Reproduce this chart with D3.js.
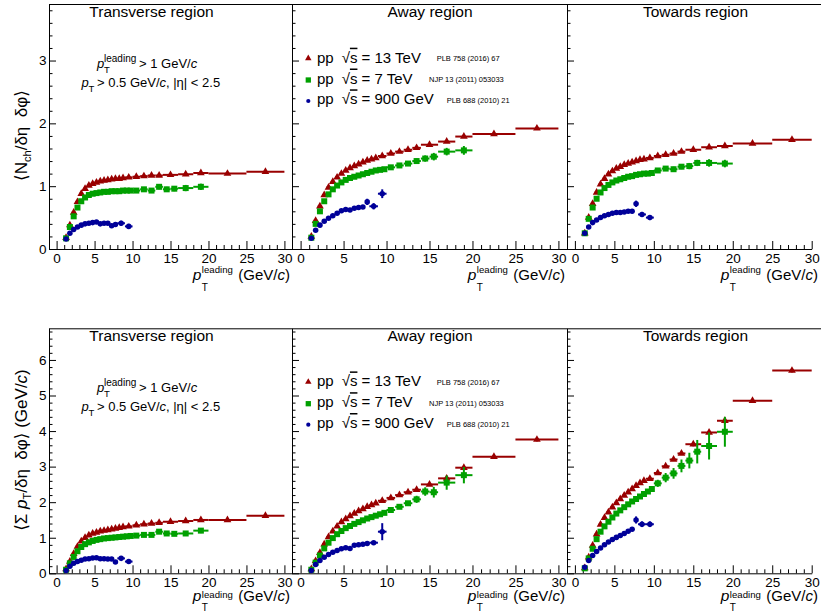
<!DOCTYPE html>
<html><head><meta charset="utf-8">
<script src="https://cdn.jsdelivr.net/npm/d3@7"></script>
<style>
body{margin:0;background:#fff}
svg text{font-family:"Liberation Sans",Arial,Helvetica,"DejaVu Sans",sans-serif;fill:#000}
</style>
</head><body>
<svg id="c" width="821" height="613"></svg>
<script>
// ---------------- DATA ----------------
const ptRed   = [1.25,1.75,2.25,2.75,3.25,3.75,4.25,4.75,5.25,5.75,6.25,6.75,7.25,7.75,8.25,8.75,9.5,10.5,11.5,12.5,13.5,15,17,19,22.5,27.5];
const ptRedHalf = [0.25,0.25,0.25,0.25,0.25,0.25,0.25,0.25,0.25,0.25,0.25,0.25,0.25,0.25,0.25,0.25,0.5,0.5,0.5,0.5,0.5,1,1,1,2.5,2.5];
const ptGreen = [1.25,1.75,2.25,2.75,3.25,3.75,4.25,4.75,5.25,5.75,6.25,6.75,7.25,7.75,8.25,8.75,9.25,9.75,10.5,11.5,12.5,13.5,14.5,15.5,17,19];
const ptGreenHalf = [0.25,0.25,0.25,0.25,0.25,0.25,0.25,0.25,0.25,0.25,0.25,0.25,0.25,0.25,0.25,0.25,0.25,0.25,0.5,0.5,0.5,0.5,0.5,0.5,1,1];
const ptBlue  = [1.25,1.75,2.25,2.75,3.25,3.75,4.25,4.75,5.25,5.75,6.25,6.75,7.25,7.75,8.5,9.5];
const ptBlueHalf = [0.25,0.25,0.25,0.25,0.25,0.25,0.25,0.25,0.25,0.25,0.25,0.25,0.25,0.25,0.5,0.5];

// <N_ch / deta dphi>
const nchTransRed   = [0.18,0.38,0.58,0.75,0.88,0.96,1.01,1.04,1.06,1.08,1.09,1.10,1.11,1.12,1.12,1.13,1.14,1.15,1.16,1.17,1.17,1.18,1.19,1.21,1.20,1.23];
const nchTransGreen = [0.17,0.35,0.52,0.66,0.76,0.82,0.86,0.88,0.89,0.90,0.91,0.91,0.92,0.92,0.92,0.93,0.93,0.93,0.93,0.95,0.93,0.99,0.95,0.96,0.97,0.99];
const nchTransBlue  = [0.16,0.25,0.31,0.35,0.38,0.40,0.41,0.42,0.43,0.40,0.41,0.41,0.37,0.39,0.41,0.36];
const nchAwayRed    = [0.20,0.45,0.68,0.86,0.98,1.07,1.14,1.20,1.25,1.29,1.32,1.35,1.38,1.41,1.43,1.45,1.48,1.52,1.55,1.58,1.61,1.66,1.71,1.79,1.83,1.92];
const nchAwayGreen  = [0.18,0.40,0.60,0.76,0.87,0.95,1.01,1.06,1.10,1.13,1.15,1.17,1.19,1.21,1.23,1.25,1.26,1.27,1.30,1.33,1.36,1.40,1.44,1.47,1.55,1.57];
const nchAwayBlue   = [0.17,0.30,0.38,0.44,0.49,0.53,0.57,0.61,0.63,0.62,0.65,0.66,0.67,0.75,0.68,0.88];
const nchTowRed     = [0.25,0.50,0.72,0.90,1.03,1.12,1.19,1.24,1.28,1.31,1.34,1.36,1.38,1.40,1.42,1.43,1.45,1.48,1.50,1.52,1.55,1.58,1.62,1.64,1.68,1.74];
const nchTowGreen   = [0.25,0.48,0.66,0.80,0.90,0.97,1.02,1.06,1.09,1.11,1.13,1.15,1.16,1.18,1.19,1.20,1.20,1.21,1.25,1.28,1.27,1.31,1.32,1.37,1.37,1.36];
const nchTowBlue    = [0.25,0.35,0.42,0.46,0.50,0.53,0.55,0.57,0.58,0.58,0.59,0.60,0.60,0.72,0.55,0.50];

// <sum pT / deta dphi>
const sptTransRed   = [0.12,0.33,0.55,0.75,0.90,1.00,1.07,1.12,1.15,1.18,1.20,1.22,1.24,1.26,1.28,1.30,1.32,1.35,1.38,1.40,1.42,1.45,1.47,1.50,1.50,1.62];
const sptTransGreen = [0.10,0.28,0.46,0.62,0.74,0.82,0.87,0.91,0.94,0.96,0.98,0.99,1.00,1.01,1.02,1.03,1.04,1.05,1.06,1.08,1.08,1.17,1.12,1.11,1.12,1.20];
const sptTransBlue  = [0.08,0.20,0.28,0.33,0.37,0.40,0.41,0.43,0.44,0.41,0.41,0.40,0.40,0.32,0.42,0.33];
const sptAwayRed    = [0.12,0.35,0.58,0.82,1.02,1.18,1.32,1.44,1.53,1.61,1.68,1.75,1.81,1.87,1.92,1.97,2.04,2.12,2.20,2.28,2.35,2.50,2.67,2.97,3.28,3.76];
const sptAwayGreen  = [0.10,0.30,0.50,0.70,0.86,0.99,1.10,1.19,1.27,1.33,1.39,1.44,1.49,1.54,1.58,1.62,1.66,1.70,1.78,1.87,1.97,2.08,2.30,2.28,2.55,2.76];
const sptAwayBlue   = [0.08,0.25,0.36,0.45,0.53,0.59,0.64,0.69,0.72,0.70,0.79,0.80,0.82,0.84,0.86,1.17];
const sptTowRed     = [0.15,0.45,0.78,1.10,1.37,1.56,1.72,1.86,1.98,2.09,2.19,2.28,2.37,2.46,2.54,2.60,2.66,2.82,3.01,3.20,3.37,3.63,3.96,4.29,4.85,5.70];
const sptTowGreen   = [0.14,0.42,0.69,0.96,1.17,1.32,1.45,1.57,1.68,1.77,1.86,1.94,2.02,2.09,2.16,2.23,2.30,2.37,2.53,2.69,2.81,3.02,3.17,3.42,3.58,3.98];
const sptTowBlue    = [0.17,0.36,0.50,0.61,0.71,0.80,0.88,0.95,1.01,1.06,1.12,1.18,1.24,1.50,1.38,1.38];

// vertical uncertainties
const errNchTransRed   = [.01,.01,.01,.01,.01,.01,.01,.01,.01,.01,.01,.01,.01,.01,.01,.01,.01,.01,.01,.01,.01,.01,.02,.02,.02,.02];
const errNchTransGreen = [.01,.01,.01,.01,.01,.01,.01,.01,.01,.01,.01,.01,.01,.01,.02,.02,.02,.02,.02,.03,.03,.04,.04,.04,.05,.05];
const errNchTransBlue  = [.01,.01,.01,.01,.01,.01,.01,.01,.02,.02,.02,.02,.03,.04,.04,.04];
const errNchAwayRed    = [.01,.01,.01,.01,.01,.01,.01,.01,.01,.01,.01,.01,.01,.01,.01,.01,.01,.01,.01,.01,.02,.02,.02,.02,.02,.02];
const errNchAwayGreen  = [.01,.01,.01,.01,.01,.01,.01,.01,.01,.01,.01,.01,.01,.01,.02,.02,.02,.02,.03,.03,.03,.04,.05,.06,.06,.07];
const errNchAwayBlue   = [.01,.01,.01,.01,.01,.01,.01,.01,.02,.02,.02,.02,.03,.05,.05,.07];
const errNchTowRed     = [.01,.01,.01,.01,.01,.01,.01,.01,.01,.01,.01,.01,.01,.01,.01,.01,.01,.01,.01,.01,.02,.02,.02,.02,.02,.02];
const errNchTowGreen   = [.01,.01,.01,.01,.01,.01,.01,.01,.01,.01,.01,.01,.01,.01,.02,.02,.02,.02,.03,.03,.04,.04,.05,.05,.06,.06];
const errNchTowBlue    = [.01,.01,.01,.01,.01,.01,.01,.01,.02,.02,.02,.02,.03,.05,.04,.04];
const errSptTransRed   = [.01,.01,.01,.01,.01,.01,.01,.01,.01,.01,.01,.01,.01,.01,.01,.01,.02,.02,.02,.02,.02,.02,.03,.03,.03,.03];
const errSptTransGreen = [.01,.01,.01,.01,.01,.01,.01,.01,.01,.01,.01,.01,.01,.01,.02,.02,.02,.02,.03,.03,.04,.04,.05,.05,.06,.07];
const errSptTransBlue  = [.01,.01,.01,.01,.01,.01,.01,.01,.02,.02,.02,.02,.03,.04,.04,.04];
const errSptAwayRed    = [.01,.01,.01,.01,.01,.01,.01,.01,.01,.01,.01,.01,.01,.01,.01,.01,.02,.02,.02,.02,.02,.04,.05,.06,.05,.05];
const errSptAwayGreen  = [.01,.01,.01,.01,.01,.01,.01,.01,.01,.01,.01,.01,.01,.01,.02,.02,.02,.02,.04,.05,.06,.10,.12,.15,.20,.23];
const errSptAwayBlue   = [.01,.01,.01,.01,.01,.01,.01,.01,.02,.02,.02,.02,.03,.05,.05,.24];
const errSptTowRed     = [.01,.01,.01,.01,.01,.01,.01,.01,.01,.01,.01,.01,.01,.01,.01,.01,.03,.03,.03,.03,.03,.06,.06,.08,.05,.05];
const errSptTowGreen   = [.01,.01,.01,.01,.01,.01,.01,.01,.01,.01,.01,.01,.03,.03,.04,.04,.05,.06,.10,.13,.15,.18,.22,.33,.38,.42];
const errSptTowBlue    = [.01,.01,.01,.01,.01,.01,.01,.01,.02,.02,.02,.02,.04,.10,.08,.08];

const regionTitles = ["Transverse region","Away region","Towards region"];
const xTickValues = [0,5,10,15,20,25,30];
const yTickValuesTop = [0,1,2,3];
const yTickValuesBottom = [0,1,2,3,4,5,6];
const legendLabels = ["13 TeV","7 TeV","900 GeV"];
const legendRefs = ["PLB 758 (2016) 67","NJP 13 (2011) 053033","PLB 688 (2010) 21"];

// ---------------- LAYOUT ----------------
const colRed = "#990000", colGreen = "#00a000", colBlue = "#000099";
const cols = [
  {x0:49,  x1:292,   dom:[-1,31], R:290, tx:151.5},
  {x0:292, x1:567,   dom:[-1,31], R:565, tx:430},
  {x0:567, x1:811.7, dom:[-1,30], R:818, tx:695.5}
];
const rows = [
  {y0:4,     y1:249,   dom:[0,3.9],  majors:yTickValuesTop,    ymaxMinor:3.8,
   titleBase:16.5, xlabBase:280, supBase:272.5, subBase:290.5,
   data:[[nchTransRed,nchTransGreen,nchTransBlue,errNchTransRed,errNchTransGreen,errNchTransBlue],
         [nchAwayRed,nchAwayGreen,nchAwayBlue,errNchAwayRed,errNchAwayGreen,errNchAwayBlue],
         [nchTowRed,nchTowGreen,nchTowBlue,errNchTowRed,errNchTowGreen,errNchTowBlue]]},
  {y0:328.3, y1:573.3, dom:[0,6.89], majors:yTickValuesBottom, ymaxMinor:6.8,
   titleBase:340.8, xlabBase:601, supBase:597.5, subBase:610.5,
   data:[[sptTransRed,sptTransGreen,sptTransBlue,errSptTransRed,errSptTransGreen,errSptTransBlue],
         [sptAwayRed,sptAwayGreen,sptAwayBlue,errSptAwayRed,errSptAwayGreen,errSptAwayBlue],
         [sptTowRed,sptTowGreen,sptTowBlue,errSptTowRed,errSptTowGreen,errSptTowBlue]]}
];

const svg = d3.select("#c");
svg.append("rect").attr("width",821).attr("height",613).attr("fill","#fff");

const triangle = d3.symbol().type(d3.symbolTriangle);
const square = d3.symbol().type(d3.symbolSquare);
const circle = d3.symbol().type(d3.symbolCircle);

function drawSeries(g, x, y, pts, half, vals, errs, color, sym, size) {
  const d = pts.map((p,i)=>({p, h:half[i], v:vals[i], e:errs[i]}));
  const s = g.append("g");
  s.selectAll(null).data(d).join("line")
    .attr("x1",q=>x(q.p-q.h)).attr("x2",q=>x(q.p+q.h))
    .attr("y1",q=>y(q.v)).attr("y2",q=>y(q.v))
    .attr("stroke",color).attr("stroke-width",2);
  s.selectAll(null).data(d).join("line")
    .attr("x1",q=>x(q.p)).attr("x2",q=>x(q.p))
    .attr("y1",q=>y(q.v-q.e)).attr("y2",q=>y(q.v+q.e))
    .attr("stroke",color).attr("stroke-width",2);
  s.selectAll(null).data(d).join("path")
    .attr("transform",q=>`translate(${x(q.p)},${y(q.v)})`)
    .attr("d",sym.size(size)()).attr("fill",color);
}

function pSymbol(g, px, base, fs, subFs, supFs, subBase, supBase, withSup, advance) {
  g.append("text").attr("x",px).attr("y",base).style("font-size",fs+"px").style("font-style","italic").text("p");
  const sx = px + advance;
  g.append("text").attr("x",sx).attr("y",subBase).style("font-size",subFs+"px").text("T");
  if (withSup) g.append("text").attr("x",sx).attr("y",supBase).style("font-size",supFs+"px").text("leading");
}

rows.forEach((row, ri) => {
  const y = d3.scaleLinear().domain(row.dom).range([row.y1, row.y0]);
  svg.append("line").attr("x1",49).attr("x2",821).attr("y1",row.y0+0.5).attr("y2",row.y0+0.5)
    .attr("stroke","#000").attr("stroke-width",1);
  cols.forEach((col, ci) => {
    const x = d3.scaleLinear().domain(col.dom).range([col.x0, col.x1]);
    const g = svg.append("g");
    const xMinor = d3.range(0,31,1).filter(v=>v%5!==0 && v<=col.dom[1]);
    g.append("g").attr("transform",`translate(0,${row.y1})`)
      .call(d3.axisBottom(x).tickValues(xMinor).tickSize(-4).tickSizeOuter(0).tickFormat(""))
      .call(a=>a.select(".domain").remove());
    const xa = g.append("g").attr("transform",`translate(0,${row.y1})`)
      .call(d3.axisBottom(x).tickValues(xTickValues).tickSize(-8).tickSizeOuter(0).tickPadding(4));
    xa.selectAll("text").style("font-size","13.5px").attr("fill","#000");
    const yMinor = d3.range(0, row.ymaxMinor+0.001, 0.2).filter(v=>Math.abs(v-Math.round(v))>0.01);
    g.append("g").attr("transform",`translate(${col.x0},0)`)
      .call(d3.axisLeft(y).tickValues(yMinor).tickSize(-3.5).tickSizeOuter(0).tickFormat(""))
      .call(a=>a.select(".domain").remove());
    const ya = g.append("g").attr("transform",`translate(${col.x0},0)`)
      .call(d3.axisLeft(y).tickValues(row.majors).tickSize(-7).tickSizeOuter(0).tickPadding(2.5)
        .tickFormat(ci===0 ? d3.format("d") : ""));
    ya.selectAll("text").style("font-size","13.5px").attr("fill","#000");

    g.append("text").attr("x",col.tx).attr("y",row.titleBase).attr("text-anchor","middle")
      .style("font-size","15.5px").text(regionTitles[ci]);

    const dd = row.data[ci];
    drawSeries(g, x, y, ptRed, ptRedHalf, dd[0], dd[3], colRed, triangle, 26);
    drawSeries(g, x, y, ptGreen, ptGreenHalf, dd[1], dd[4], colGreen, square, 36);
    drawSeries(g, x, y, ptBlue, ptBlueHalf, dd[2], dd[5], colBlue, circle, 24);

    const t = g.append("text").attr("x",col.R).attr("y",row.xlabBase).attr("text-anchor","end")
      .style("font-size","15px");
    t.append("tspan").text("(GeV/");
    t.append("tspan").style("font-style","italic").text("c");
    t.append("tspan").text(")");
    const w = t.node().getComputedTextLength();
    const tmp = g.append("text").style("font-size","9.6px").text("leading");
    const wl = tmp.node().getComputedTextLength(); tmp.remove();
    const sx = col.R - w - 5.5 - wl;
    pSymbol(g, sx-9, row.xlabBase, 15.5, 10, 9.6, row.subBase, row.supBase, true, 9);
  });

  const off = ri===0 ? 0 : 324.4;
  const ga = svg.append("g");
  pSymbol(ga, 97, 68+off, 13, 9.5, 10, 72.5+off, 62+off, true, 7);
  ga.append("text").attr("x",139).attr("y",68+off).style("font-size","13px")
    .call(t=>{t.append("tspan").text("> 1 GeV/"); t.append("tspan").style("font-style","italic").text("c");});
  pSymbol(ga, 81.5, 87+off, 13, 9.5, 10, 92+off, 0, false, 7);
  ga.append("text").attr("x",97).attr("y",87+off).style("font-size","13px")
    .call(t=>{t.append("tspan").text("> 0.5 GeV/"); t.append("tspan").style("font-style","italic").text("c");
              t.append("tspan").text(", |η| < 2.5");});

  const lg = svg.append("g");
  const markerY = [58.3, 80, 101].map(v=>v+ri*323.7);
  const baseY = [62.7, 83.5, 104.3].map(v=>v+ri*323.7);
  const refX = [436.7, 429, 446.7];
  const syms = [[triangle,18,colRed],[square,28,colGreen],[circle,14,colBlue]];
  legendLabels.forEach((lab,i)=>{
    lg.append("path").attr("transform",`translate(308.3,${markerY[i]})`)
      .attr("d",syms[i][0].size(syms[i][1])()).attr("fill",syms[i][2]);
    const tt = lg.append("text").attr("x",317).attr("y",baseY[i]).style("font-size","15px");
    tt.append("tspan").text("pp");
    tt.append("tspan").attr("dx",8).text("√");
    tt.append("tspan").style("text-decoration","overline").text("s");
    tt.append("tspan").text(" = "+lab);
    lg.append("text").attr("x",refX[i]).attr("y",baseY[i]-1.5).style("font-size","7.5px").text(legendRefs[i]);
  });
});

const yt1 = svg.append("text").attr("transform","translate(27,135.5) rotate(-90)").attr("text-anchor","middle")
  .style("font-size","17px");
yt1.append("tspan").text("⟨N");
yt1.append("tspan").attr("dy",4).style("font-size","11px").text("ch");
yt1.append("tspan").attr("dy",-4).text("/δη\u00a0\u00a0δφ⟩");

const yt2 = svg.append("text").attr("transform","translate(27,450) rotate(-90)").attr("text-anchor","middle")
  .style("font-size","17px");
yt2.append("tspan").text("⟨Σ ");
yt2.append("tspan").style("font-style","italic").text("p");
yt2.append("tspan").attr("dy",4).style("font-size","11px").text("T");
yt2.append("tspan").attr("dy",-4).text("/δη\u00a0\u00a0δφ⟩ (GeV/");
yt2.append("tspan").style("font-style","italic").text("c");
yt2.append("tspan").text(")");
</script>
</body></html>
